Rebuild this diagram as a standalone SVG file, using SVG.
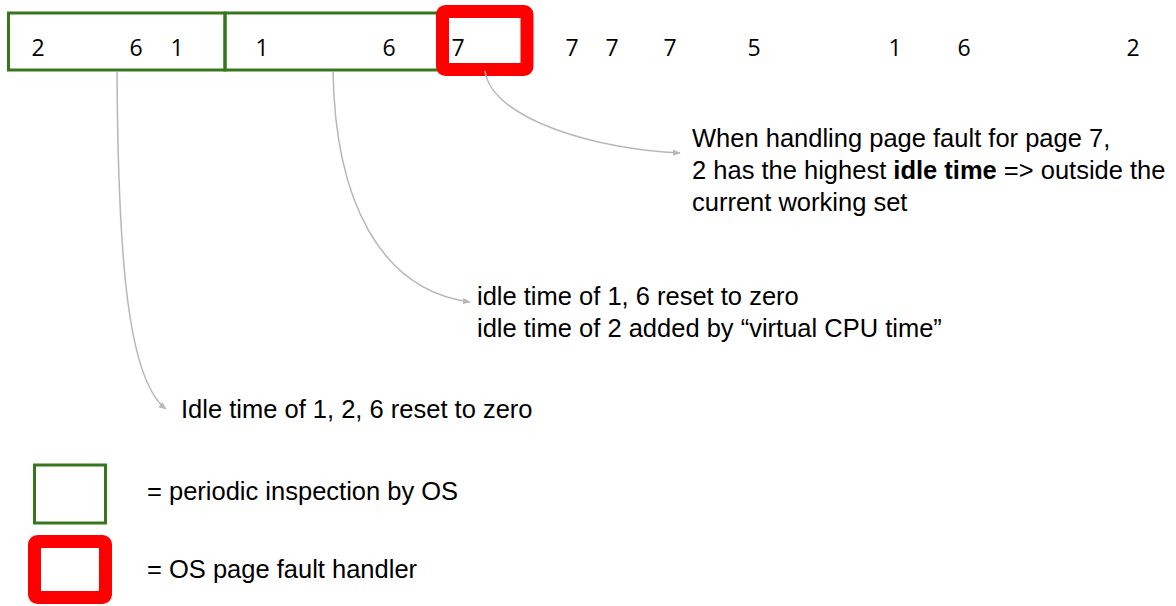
<svg xmlns="http://www.w3.org/2000/svg" width="1176" height="606" viewBox="0 0 1176 606">
<defs>
<style>
.green{fill:none;stroke:#38761d;stroke-width:3}
.red{fill:none;stroke:#ff0000;stroke-width:13;stroke-linejoin:round}
.num{font-family:"Open Sans","DejaVu Sans",sans-serif;font-size:23px;fill:#000;text-anchor:middle}
.lbl{font-family:"Liberation Sans",Arial,sans-serif;font-size:25.5px;fill:#000}
.conn{fill:none;stroke:#b7b7b7;stroke-width:1.5;marker-end:url(#arr)}
</style>
<marker id="arr" viewBox="0 0 10 10" refX="9" refY="5" markerWidth="8" markerHeight="8" orient="auto" markerUnits="userSpaceOnUse">
<path d="M0,1 L10,5 L0,9 Z" fill="#b7b7b7"/>
</marker>
</defs>
<rect width="1176" height="606" fill="#fff"/>
<g id="inspection1"><rect class="green" x="8.5" y="13" width="216.5" height="57"/></g>
<g id="inspection2"><rect class="green" x="225" y="13" width="217" height="57"/></g>
<g id="pagefault"><rect class="red" x="442.5" y="11.5" width="84.5" height="58" rx="3"/></g>
<g id="sequence">
<text class="num" x="38" y="56">2</text>
<text class="num" x="136" y="56">6</text>
<text class="num" x="177" y="56">1</text>
<text class="num" x="262" y="56">1</text>
<text class="num" x="389" y="56">6</text>
<text class="num" x="458" y="56">7</text>
<text class="num" x="572" y="56">7</text>
<text class="num" x="612" y="56">7</text>
<text class="num" x="670" y="56">7</text>
<text class="num" x="754" y="56">5</text>
<text class="num" x="895" y="56">1</text>
<text class="num" x="964" y="56">6</text>
<text class="num" x="1133" y="56">2</text>
</g>
<g id="connectors">
<path class="conn" d="M117,71 C118,260 128,380 166,409"/>
<path class="conn" d="M333,71 C335,200 380,290 470,302"/>
<path class="conn" d="M485,71 C492,120 600,150 680,153"/>
</g>
<g id="note-pagefault">
<text class="lbl" x="692" y="147">When handling page fault for page 7,</text>
<text class="lbl" x="692" y="179">2 has the highest <tspan font-weight="bold">idle time</tspan> =&gt; outside the</text>
<text class="lbl" x="692" y="211">current working set</text>
</g>
<g id="note-inspection2">
<text class="lbl" x="477" y="305">idle time of 1, 6 reset to zero</text>
<text class="lbl" x="477" y="337">idle time of 2 added by “virtual CPU time”</text>
</g>
<g id="note-inspection1">
<text class="lbl" x="181" y="418">Idle time of 1, 2, 6 reset to zero</text>
</g>
<g id="legend-green">
<rect class="green" x="34.5" y="465" width="71" height="58"/>
<text class="lbl" x="147" y="500">= periodic inspection by OS</text>
</g>
<g id="legend-red">
<rect class="red" x="34.5" y="541.5" width="71" height="56" rx="3"/>
<text class="lbl" x="147" y="578">= OS page fault handler</text>
</g>
</svg>
